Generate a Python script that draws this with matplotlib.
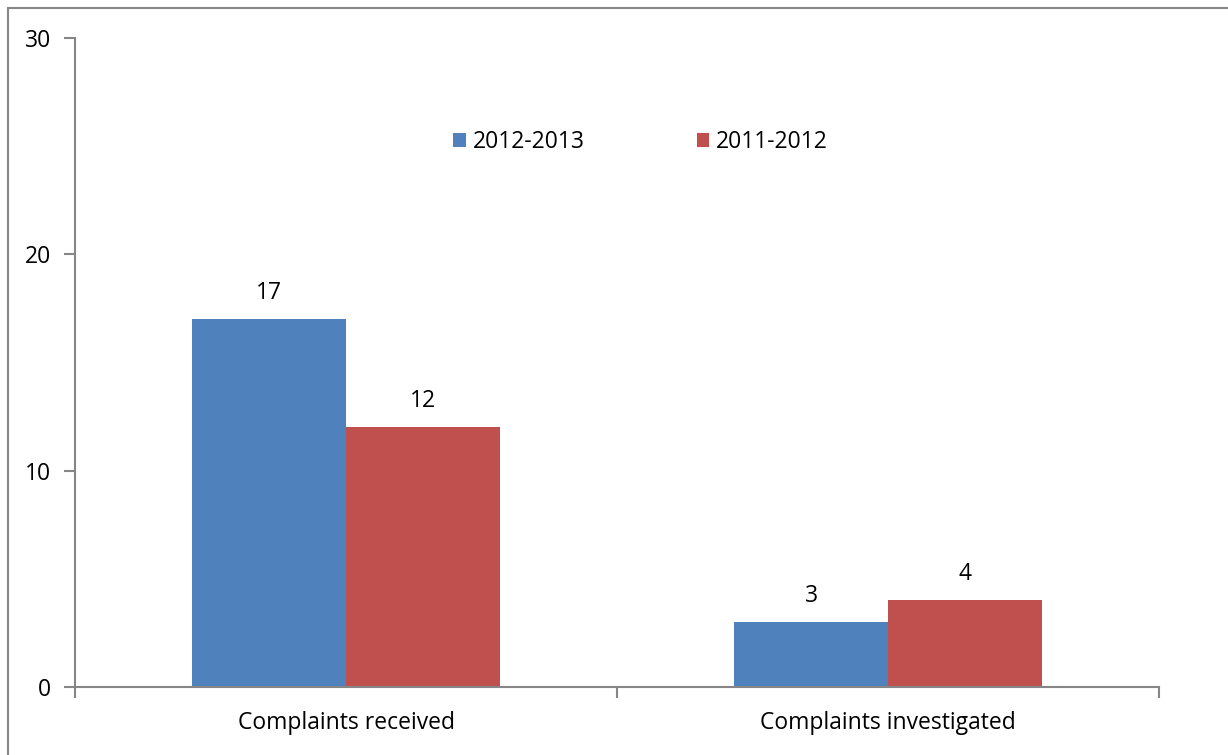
import matplotlib
matplotlib.use('Agg')
import matplotlib.pyplot as plt
from matplotlib.patches import Rectangle

plt.rcParams['font.family'] = ['Open Sans', 'DejaVu Sans']

categories = ['Complaints received', 'Complaints investigated']
series_names = ['2012-2013', '2011-2012']
values_2012_2013 = [17, 3]
values_2011_2012 = [12, 4]
y_ticks = [0, 10, 20, 30]

blue = '#4F81BD'
red = '#C0504D'
axis_grey = '#868686'
fs = 16.5

fig = plt.figure(figsize=(12.28, 7.55), dpi=100)
ax = fig.add_axes([75/1228, 1-687/755, (1159-75)/1228, (687-38)/755])

x = range(len(categories))
w = 0.284
b1 = ax.bar([i - w/2 for i in x], values_2012_2013, w, color=blue, label=series_names[0])
b2 = ax.bar([i + w/2 for i in x], values_2011_2012, w, color=red, label=series_names[1])

for bars, vals in [(b1, values_2012_2013), (b2, values_2011_2012)]:
    for bar, v in zip(bars, vals):
        ax.annotate(str(v), (bar.get_x() + bar.get_width()/2, v),
                    xytext=(0, 14), textcoords='offset pixels',
                    ha='center', va='bottom', fontsize=fs)

ax.set_xlim(-0.5, len(categories) - 0.5)
ax.set_ylim(0, 30)
ax.set_yticks(y_ticks)
ax.set_yticklabels([str(t) for t in y_ticks], fontsize=fs)

# category boundaries get tick marks, labels go in between
ax.set_xticks([i - 0.5 for i in range(len(categories) + 1)])
ax.set_xticklabels([])
ax.set_xticks(list(x), minor=True)
ax.set_xticklabels(categories, minor=True, fontsize=fs)
ax.tick_params(axis='x', which='minor', length=0, pad=17)
ax.tick_params(axis='x', which='major', length=8, width=1.5, color=axis_grey)
ax.tick_params(axis='y', length=8, width=1.5, color=axis_grey, pad=9)

for s in ['top', 'right']:
    ax.spines[s].set_visible(False)
for s in ['left', 'bottom']:
    ax.spines[s].set_color(axis_grey)
    ax.spines[s].set_linewidth(1.5)

fig.legend(loc='center left', bbox_to_anchor=(453/1228, 1-142/755), ncol=2,
           frameon=False, fontsize=fs, handlelength=0.55, handleheight=0.55,
           handletextpad=0.3, columnspacing=4.9, borderpad=0, borderaxespad=0)

# outer chart border
fig.patches.append(Rectangle((8/1228, -0.05), 1.1, 1-8/755+0.05, transform=fig.transFigure,
                             fill=False, edgecolor=axis_grey, linewidth=1.5))

fig.savefig('out.png', dpi=100)
